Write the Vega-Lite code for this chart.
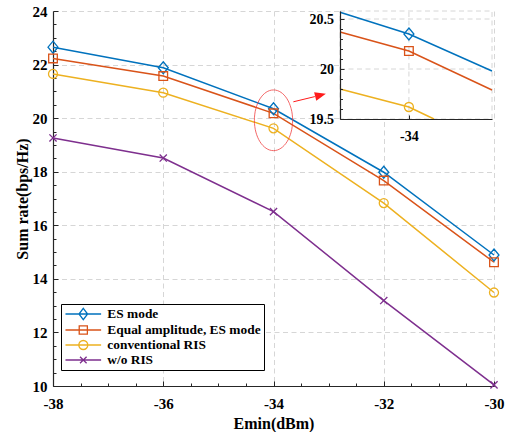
{
  "$schema": "https://vega.github.io/schema/vega-lite/v6.json",
  "width": 441,
  "height": 375,
  "autosize": "none",
  "padding": {"left": 53, "top": 11, "right": 19, "bottom": 46},
  "background": "white",
  "config": {
    "font": "Liberation Serif, Times New Roman, DejaVu Serif, serif",
    "view": {"stroke": null},
    "axis": {
      "labelFont": "Liberation Serif, Times New Roman, DejaVu Serif, serif", "labelFontWeight": "bold", "labelFontSize": 15, "labelColor": "#000",
      "titleFont": "Liberation Serif, Times New Roman, DejaVu Serif, serif", "titleFontWeight": "bold", "titleFontSize": 16, "titleColor": "#000",
      "domainColor": "#262626", "tickColor": "#262626", "domainWidth": 1.2, "tickWidth": 1,
      "gridColor": "#d6d6d6", "gridDash": [5, 3.5], "gridWidth": 1,
      "labelFlush": false, "labelOverlap": false
    },
    "legend": {
      "title": null, "orient": "none", "legendX": 8, "legendY": 293,
      "fillColor": "white", "strokeColor": "#000", "padding": 3, "cornerRadius": 0,
      "labelFont": "Liberation Serif, Times New Roman, DejaVu Serif, serif", "labelFontWeight": "bold", "labelFontSize": 13.4, "labelColor": "#000",
      "symbolSize": 144, "symbolStrokeWidth": 1.3, "symbolOffset": 12.3, "labelOffset": 17, "rowPadding": 0, "symbolOpacity": 1
    }
  },
  "datasets": {
    "main": [
      {"x": -38, "y": 22.65, "series": "ES mode"},
      {"x": -36, "y": 21.88, "series": "ES mode"},
      {"x": -34, "y": 20.35, "series": "ES mode"},
      {"x": -32, "y": 17.98, "series": "ES mode"},
      {"x": -30, "y": 14.89, "series": "ES mode"},
      {"x": -38, "y": 22.23, "series": "Equal amplitude, ES mode"},
      {"x": -36, "y": 21.57, "series": "Equal amplitude, ES mode"},
      {"x": -34, "y": 20.18, "series": "Equal amplitude, ES mode"},
      {"x": -32, "y": 17.67, "series": "Equal amplitude, ES mode"},
      {"x": -30, "y": 14.62, "series": "Equal amplitude, ES mode"},
      {"x": -38, "y": 21.65, "series": "conventional RIS"},
      {"x": -36, "y": 20.95, "series": "conventional RIS"},
      {"x": -34, "y": 19.62, "series": "conventional RIS"},
      {"x": -32, "y": 16.83, "series": "conventional RIS"},
      {"x": -30, "y": 13.49, "series": "conventional RIS"},
      {"x": -38, "y": 19.26, "series": "w/o RIS"},
      {"x": -36, "y": 18.51, "series": "w/o RIS"},
      {"x": -34, "y": 16.51, "series": "w/o RIS"},
      {"x": -32, "y": 13.19, "series": "w/o RIS"},
      {"x": -30, "y": 10.04, "series": "w/o RIS"}
    ],
    "inset": [
      {"x": -34.272, "y": 20.567, "series": "ES mode"},
      {"x": -34, "y": 20.35, "series": "ES mode"},
      {"x": -33.672, "y": 19.98, "series": "ES mode"},
      {"x": -34.272, "y": 20.37, "series": "Equal amplitude, ES mode"},
      {"x": -34, "y": 20.18, "series": "Equal amplitude, ES mode"},
      {"x": -33.672, "y": 19.79, "series": "Equal amplitude, ES mode"},
      {"x": -34.272, "y": 19.8, "series": "conventional RIS"},
      {"x": -34, "y": 19.62, "series": "conventional RIS"},
      {"x": -33.901, "y": 19.5, "series": "conventional RIS"}
    ],
    "ellipse": [{"x": -34, "y": 19.92}],
    "arrow": [{"x": -33.64, "y": 20.61, "x2": -33.25, "y2": 20.805}],
    "arrowhead": [{"x": -33.147, "y": 20.857}],
    "insetGrid": [{"v": 20}, {"v": 20.5}],
    "one": [{"k": 1}],
    "none": []
  },
  "layer": [
    {
      "layer": [
        {
          "data": {"name": "main"},
          "mark": {"type": "line", "strokeWidth": 1.5},
          "encoding": {
            "x": {"field": "x", "type": "quantitative",
              "scale": {"domain": [-38, -30], "nice": false, "zero": false},
              "axis": {"orient": "bottom", "values": [-38, -36, -34, -32, -30], "labelExpr": "'' + datum.value", "title": "Emin(dBm)", "grid": true, "tickSize": -5, "labelPadding": 15, "titlePadding": 4,
                "encode": {"labels": {"font": {"value": "Liberation Serif, Times New Roman, DejaVu Serif, serif"}}, "title": {"font": {"value": "Liberation Serif, Times New Roman, DejaVu Serif, serif"}}}}},
            "y": {"field": "y", "type": "quantitative",
              "scale": {"domain": [10, 24], "nice": false, "zero": false},
              "axis": {"orient": "left", "values": [10, 12, 14, 16, 18, 20, 22, 24], "title": "Sum rate(bps/Hz)", "grid": true, "tickSize": -5, "labelPadding": 11, "titlePadding": 2,
                "encode": {"labels": {"font": {"value": "Liberation Serif, Times New Roman, DejaVu Serif, serif"}}, "title": {"font": {"value": "Liberation Serif, Times New Roman, DejaVu Serif, serif"}}}}},
            "color": {"field": "series", "type": "nominal",
              "scale": {"domain": ["ES mode", "Equal amplitude, ES mode", "conventional RIS", "w/o RIS"], "range": ["#0072BD", "#D95319", "#EDB120", "#7E2F8E"]},
              "legend": null}
          }
        },
        {
          "data": {"name": "main"},
          "mark": {"type": "point", "filled": false, "size": 144, "strokeWidth": 1.3, "opacity": 1},
          "encoding": {
            "x": {"field": "x", "type": "quantitative",
              "scale": {"domain": [-38, -30], "nice": false, "zero": false},
              "axis": {"orient": "bottom", "values": [-37.5, -37, -36.5, -35.5, -35, -34.5, -33.5, -33, -32.5, -31.5, -31, -30.5], "labels": false, "domain": false, "grid": false, "title": null, "tickSize": -3}},
            "y": {"field": "y", "type": "quantitative",
              "scale": {"domain": [10, 24], "nice": false, "zero": false},
              "axis": {"orient": "left", "values": [10.5, 11, 11.5, 12.5, 13, 13.5, 14.5, 15, 15.5, 16.5, 17, 17.5, 18.5, 19, 19.5, 20.5, 21, 21.5, 22.5, 23, 23.5], "labels": false, "domain": false, "grid": false, "title": null, "tickSize": -3}},
            "color": {"field": "series", "type": "nominal",
              "scale": {"domain": ["ES mode", "Equal amplitude, ES mode", "conventional RIS", "w/o RIS"], "range": ["#0072BD", "#D95319", "#EDB120", "#7E2F8E"]}, "legend": null},
            "shape": {"field": "series", "type": "nominal",
              "scale": {"domain": ["ES mode", "Equal amplitude, ES mode", "conventional RIS", "w/o RIS"],
                "range": ["M0,-1L0.83,0L0,1L-0.83,0Z", "M-0.72,-0.72L0.72,-0.72L0.72,0.72L-0.72,0.72Z", "M0.75,0C0.75,0.414 0.414,0.75 0,0.75C-0.414,0.75 -0.75,0.414 -0.75,0C-0.75,-0.414 -0.414,-0.75 0,-0.75C0.414,-0.75 0.75,-0.414 0.75,0Z", "M-0.6,-0.6L0.6,0.6M-0.6,0.6L0.6,-0.6"]},
              "legend": null}
          }
        },
        {
          "data": {"name": "ellipse"},
          "mark": {"type": "point", "filled": false, "size": 3684, "stroke": "#f03a3a", "strokeWidth": 0.9, "opacity": 0.85,
            "shape": "M0.63,0C0.63,0.5523 0.348,1 0,1C-0.348,1 -0.63,0.5523 -0.63,0C-0.63,-0.5523 -0.348,-1 0,-1C0.348,-1 0.63,-0.5523 0.63,0Z"},
          "encoding": {
            "x": {"field": "x", "type": "quantitative", "scale": {"domain": [-38, -30], "nice": false, "zero": false}, "axis": null},
            "y": {"field": "y", "type": "quantitative", "scale": {"domain": [10, 24], "nice": false, "zero": false}, "axis": null}
          }
        },
        {
          "data": {"name": "arrow"},
          "mark": {"type": "rule", "color": "#ff1a1a", "strokeWidth": 1},
          "encoding": {
            "x": {"field": "x", "type": "quantitative", "scale": {"domain": [-38, -30], "nice": false, "zero": false}, "axis": null},
            "y": {"field": "y", "type": "quantitative", "scale": {"domain": [10, 24], "nice": false, "zero": false}, "axis": null},
            "x2": {"field": "x2"},
            "y2": {"field": "y2"}
          }
        },
        {
          "data": {"name": "arrowhead"},
          "mark": {"type": "point", "filled": true, "fill": "#ff1a1a", "strokeWidth": 0, "size": 121, "opacity": 1, "angle": 345.6,
            "shape": "M1,0L-1,-0.8L-1,0.8Z"},
          "encoding": {
            "x": {"field": "x", "type": "quantitative", "scale": {"domain": [-38, -30], "nice": false, "zero": false}, "axis": null},
            "y": {"field": "y", "type": "quantitative", "scale": {"domain": [10, 24], "nice": false, "zero": false}, "axis": null}
          }
        }
      ],
      "resolve": {"axis": {"x": "independent", "y": "independent"}}
    },
    {
      "layer": [
        {
          "data": {"name": "one"},
          "mark": {"type": "rect", "fill": "white", "stroke": "#d6d6d6", "strokeDash": [5, 3.5], "strokeWidth": 1},
          "encoding": {
            "x": {"datum": -34.272, "type": "quantitative", "scale": {"domain": [-34.272, -33.672], "range": [287, 439], "nice": false, "zero": false}, "axis": null},
            "x2": {"datum": -33.672},
            "y": {"datum": 19.5, "type": "quantitative", "scale": {"domain": [19.5, 20.58], "range": [108, 0], "nice": false, "zero": false}, "axis": null},
            "y2": {"datum": 20.58}
          }
        },
        {
          "data": {"name": "insetGrid"},
          "mark": {"type": "rule", "color": "#d6d6d6", "strokeDash": [5, 3.5], "strokeWidth": 1},
          "encoding": {
            "x": {"datum": -34.272, "type": "quantitative", "scale": {"domain": [-34.272, -33.672], "range": [287, 439], "nice": false, "zero": false}, "axis": null},
            "x2": {"datum": -33.672},
            "y": {"field": "v", "type": "quantitative", "scale": {"domain": [19.5, 20.58], "range": [108, 0], "nice": false, "zero": false}, "axis": null}
          }
        },
        {
          "data": {"name": "one"},
          "mark": {"type": "rule", "color": "#d6d6d6", "strokeDash": [5, 3.5], "strokeWidth": 1},
          "encoding": {
            "x": {"datum": -34, "type": "quantitative", "scale": {"domain": [-34.272, -33.672], "range": [287, 439], "nice": false, "zero": false}, "axis": null},
            "y": {"datum": 19.5, "type": "quantitative", "scale": {"domain": [19.5, 20.58], "range": [108, 0], "nice": false, "zero": false}, "axis": null},
            "y2": {"datum": 20.58}
          }
        },
        {
          "data": {"name": "inset"},
          "mark": {"type": "line", "strokeWidth": 1.5},
          "encoding": {
            "x": {"field": "x", "type": "quantitative",
              "scale": {"domain": [-34.272, -33.672], "range": [287, 439], "nice": false, "zero": false},
              "axis": {"orient": "bottom", "offset": -267, "values": [-34], "labelExpr": "'' + datum.value", "grid": false, "title": null, "tickSize": -4, "labelPadding": 14, "labelFontSize": 14, "zindex": 1,
                "encode": {"labels": {"font": {"value": "Liberation Serif, Times New Roman, DejaVu Serif, serif"}}}}},
            "y": {"field": "y", "type": "quantitative",
              "scale": {"domain": [19.5, 20.58], "range": [108, 0], "nice": false, "zero": false},
              "axis": {"orient": "left", "offset": -287, "values": [19.5, 20, 20.5], "labelExpr": "'' + datum.value", "grid": false, "title": null, "tickSize": -4, "labelPadding": 10.5, "labelFontSize": 14, "zindex": 1,
                "encode": {"labels": {"font": {"value": "Liberation Serif, Times New Roman, DejaVu Serif, serif"}}}}},
            "color": {"field": "series", "type": "nominal",
              "scale": {"domain": ["ES mode", "Equal amplitude, ES mode", "conventional RIS", "w/o RIS"], "range": ["#0072BD", "#D95319", "#EDB120", "#7E2F8E"]}, "legend": null}
          }
        },
        {
          "data": {"name": "inset"},
          "transform": [{"filter": "datum.x == -34"}],
          "mark": {"type": "point", "filled": false, "size": 144, "strokeWidth": 1.3, "opacity": 1},
          "encoding": {
            "x": {"field": "x", "type": "quantitative",
              "scale": {"domain": [-34.272, -33.672], "range": [287, 439], "nice": false, "zero": false}, "axis": null},
            "y": {"field": "y", "type": "quantitative",
              "scale": {"domain": [19.5, 20.58], "range": [108, 0], "nice": false, "zero": false},
              "axis": {"orient": "left", "offset": -287, "values": [19.6, 19.7, 19.8, 19.9, 20.1, 20.2, 20.3, 20.4], "labels": false, "domain": false, "grid": false, "title": null, "tickSize": -2.5, "zindex": 1}},
            "color": {"field": "series", "type": "nominal",
              "scale": {"domain": ["ES mode", "Equal amplitude, ES mode", "conventional RIS", "w/o RIS"], "range": ["#0072BD", "#D95319", "#EDB120", "#7E2F8E"]}, "legend": null},
            "shape": {"field": "series", "type": "nominal",
              "scale": {"domain": ["ES mode", "Equal amplitude, ES mode", "conventional RIS", "w/o RIS"],
                "range": ["M0,-1L0.83,0L0,1L-0.83,0Z", "M-0.72,-0.72L0.72,-0.72L0.72,0.72L-0.72,0.72Z", "M0.75,0C0.75,0.414 0.414,0.75 0,0.75C-0.414,0.75 -0.75,0.414 -0.75,0C-0.75,-0.414 -0.414,-0.75 0,-0.75C0.414,-0.75 0.75,-0.414 0.75,0Z", "M-0.6,-0.6L0.6,0.6M-0.6,0.6L0.6,-0.6"]}, "legend": null}
          }
        }
      ],
      "resolve": {"axis": {"x": "independent", "y": "independent"}}
    },
    {
      "data": {"name": "none"},
      "mark": {"type": "point", "filled": false, "strokeWidth": 1.3, "opacity": 1},
      "encoding": {
        "color": {"field": "series", "type": "nominal",
          "scale": {"domain": ["ES mode", "Equal amplitude, ES mode", "conventional RIS", "w/o RIS"], "range": ["#0072BD", "#D95319", "#EDB120", "#7E2F8E"]}},
        "shape": {"field": "series", "type": "nominal",
          "scale": {"domain": ["ES mode", "Equal amplitude, ES mode", "conventional RIS", "w/o RIS"],
            "range": ["M-2.97,0L2.97,0M0,-0.95L0.72,0L0,0.95L-0.72,0Z", "M-2.97,0L2.97,0M-0.68,-0.68L0.68,-0.68L0.68,0.68L-0.68,0.68Z", "M-2.97,0L2.97,0M0.75,0C0.75,0.414 0.414,0.75 0,0.75C-0.414,0.75 -0.75,0.414 -0.75,0C-0.75,-0.414 -0.414,-0.75 0,-0.75C0.414,-0.75 0.75,-0.414 0.75,0Z", "M-2.97,0L2.97,0M-0.55,-0.55L0.55,0.55M-0.55,0.55L0.55,-0.55"]}}
      }
    }
  ],
  "resolve": {"scale": {"x": "independent", "y": "independent", "shape": "independent", "color": "independent"}, "axis": {"x": "independent", "y": "independent"}}
}
